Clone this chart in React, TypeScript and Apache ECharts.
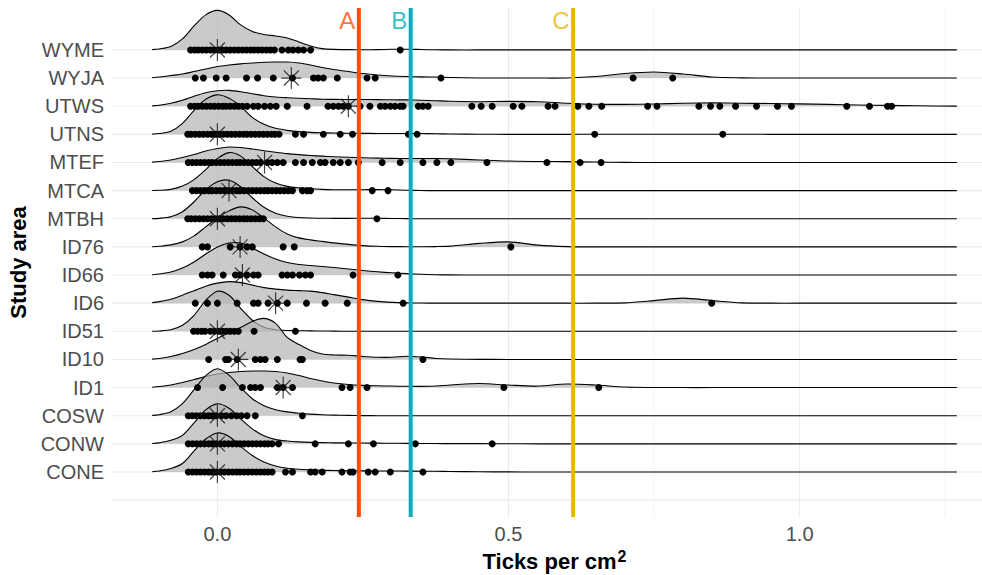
import React, { useEffect, useRef } from "react";
import * as echarts from "echarts";

// Study areas, bottom to top (value 1 = CONE ... 16 = WYME)
const CATEGORIES = ["CONE", "CONW", "COSW", "ID1", "ID10", "ID51", "ID6", "ID66", "ID76", "MTBH", "MTCA", "MTEF", "UTNS", "UTWS", "WYJA", "WYME"];

const X_TICKS = [0, 0.5, 1.0];
const GRID_MAJOR_X = [0, 0.5, 1.0];
const GRID_MINOR_X = [0.25, 0.75, 1.25];

const THRESHOLDS = [0.243, 0.332, 0.611];
const THRESHOLD_LABELS = ["A", "B", "C"];
const THRESHOLD_COLORS = ["#FC4E07", "#00AFBB", "#E7B800"];

// x positions where the ridge densities are read
const DENSITY_X = [-0.112, -0.1, -0.08, -0.06, -0.04, -0.02, 0, 0.02, 0.04, 0.06, 0.08, 0.1, 0.12, 0.14, 0.16, 0.18, 0.2,
  0.225, 0.25, 0.275, 0.3, 0.325, 0.35, 0.375, 0.4,
  0.45, 0.5, 0.55, 0.6, 0.65, 0.7, 0.75, 0.8, 0.85, 0.9, 0.95, 1.0, 1.05, 1.1, 1.15, 1.2, 1.27];

// relative ridge heights at DENSITY_X (missing trailing values = 0)
const D_CONE = [0.3, 1, 3.5, 8.5, 21, 33, 39, 35.5, 25.5, 16.5, 10, 6, 3.8, 2.7, 2.2, 1.8, 1.5, 1.3, 1.1, 1, 1, 0.9, 0.8, 0.7, 0.5, 0.2, 0.1];
const D_CONW = [0.3, 1, 3.5, 8.5, 21, 34, 40, 35.5, 25, 15, 8, 4.2, 2.8, 2, 1.5, 1.2, 1, 0.9, 0.8, 0.7, 0.6, 0.5, 0.4, 0.3, 0.2, 0.2, 0.1];
const D_COSW = [0.3, 1, 4, 12, 26, 40, 47, 40.5, 28, 17, 10, 6, 3.8, 2.5, 1.6, 1, 0.6, 0.3, 0.1];
const D_ID1 = [0.3, 1, 2.5, 5, 8, 11, 13.5, 15, 16, 16.5, 16.5, 16, 14.5, 12, 9, 6.5, 4.5, 3, 2.2, 1.8, 1.5, 1.3, 1.2, 1.5, 2.5, 4, 2.5, 1.5, 3.5, 2.5, 0.5, 0.1];
const D_ID10 = [0.3, 1, 3, 6, 10, 15, 21, 27, 32, 38, 41, 36, 22, 15, 9, 5.5, 4.5, 4.2, 3, 2.2, 2.2, 3.2, 2.5, 1, 0.4, 0.1];
const D_ID51 = [0.1, 0.3, 1.5, 6, 16, 31, 40, 36, 23, 11, 4, 1.5, 0.8, 0.6, 0.4, 0.3, 0.2];
const D_ID6 = [0.5, 1.5, 4, 8, 12.5, 17, 20, 21.5, 20.5, 18, 15.5, 14, 13, 12.5, 12, 10.5, 8.5, 6, 3.5, 1.8, 0.8, 0.3, 0.1, 0, 0, 0, 0, 0, 0, 0, 0.3, 2.5, 5, 2.5, 0.3];
const D_ID66 = [0.3, 1, 3, 7, 13, 21, 28, 32, 32, 27, 21, 16, 12.5, 10.5, 9.5, 8.5, 7.5, 6, 4.5, 3.2, 2.2, 1.4, 0.7, 0.3, 0.1];
const D_ID76 = [0.2, 0.6, 2, 5, 11, 20, 29, 36, 40, 37, 29, 20, 13, 9, 7, 5.5, 4, 2.5, 1.3, 0.6, 0.3, 0.2, 0.2, 0.3, 0.8, 3.5, 5, 1.8, 0.3];
const D_MTBH = [0.1, 0.4, 2, 7, 17, 29, 37, 38.5, 32, 21, 11.5, 5.5, 2.5, 1.2, 0.7, 0.5, 0.4, 0.4, 0.5, 0.5, 0.3, 0.1];
const D_MTCA = [0.1, 0.3, 1.2, 4.5, 11, 21, 32, 38, 34.5, 24, 14, 7.5, 4.2, 2.7, 1.8, 1.2, 0.9, 0.8, 0.9, 1.0, 0.8, 0.4, 0.1];
const D_MTEF = [0.3, 1, 2.5, 5, 8, 11.5, 14, 15.5, 15, 13.5, 11.8, 10.2, 8.8, 7.8, 7, 6.3, 5.7, 5.2, 4.7, 4.3, 4.1, 4, 4, 4, 3.7, 2.5, 1.4, 1, 0.8, 0.4, 0.1];
const D_UTNS = [0.2, 0.8, 3, 11, 24, 35, 39.5, 36, 28, 17, 10, 6, 4, 2.7, 2, 1.6, 1.3, 1.1, 1, 0.9, 0.8, 0.8, 0.8, 0.6, 0.4, 0.1, 0, 0, 0, 0.1, 0.1, 0.1, 0.1, 0.1, 0.1];
const D_UTWS = [0.3, 1, 3, 6, 10, 13.5, 15.5, 15.8, 14.5, 12.5, 10.5, 9.2, 8.5, 8, 7.5, 7, 6.8, 6.7, 6.7, 6.6, 6.4, 6.3, 6, 5.5, 5, 4.5, 4.8, 4.5, 3, 2, 1.8, 2.2, 3, 3.3, 3, 2.7, 2.3, 1.8, 1.2, 0.8, 0.4, 0.1];
const D_WYJA = [0.3, 1, 2.5, 4, 6.5, 9, 11.5, 13, 14.2, 15, 15.8, 16, 16, 15, 13, 10.5, 8.5, 6.5, 4.5, 3, 2, 1.5, 1.2, 1, 0.6, 0.1, 0, 0, 0.1, 1.5, 4.5, 6, 4, 1, 0.2];
const D_WYME = [0.3, 1, 3.5, 11, 24, 35, 39.5, 35, 25, 18.5, 15.5, 14, 12, 8, 4, 1.3, 0.5, 0.3, 0.2, 0.3, 0.6, 0.7, 0.4, 0.1];

const DENSITIES = [D_CONE, D_CONW, D_COSW, D_ID1, D_ID10, D_ID51, D_ID6, D_ID66, D_ID76, D_MTBH, D_MTCA, D_MTEF, D_UTNS, D_UTWS, D_WYJA, D_WYME];

// observed (jittered) values, ticks per cm2
const P_CONE = [-0.05, -0.043, -0.036, -0.029, -0.022, -0.015, -0.009, -0.002, 0.005, 0.012, 0.019, 0.026, 0.033, 0.039, 0.046, 0.053, 0.06, 0.067, 0.074, 0.081, 0.087, 0.094, 0.117, 0.129, 0.16, 0.168, 0.18, 0.214, 0.228, 0.233, 0.259, 0.271, 0.297, 0.353];
const P_CONW = [-0.05, -0.043, -0.036, -0.029, -0.022, -0.015, -0.009, -0.002, 0.005, 0.012, 0.019, 0.026, 0.033, 0.039, 0.046, 0.053, 0.06, 0.067, 0.074, 0.081, 0.087, 0.094, 0.105, 0.168, 0.225, 0.268, 0.34, 0.472];
const P_COSW = [-0.05, -0.043, -0.036, -0.029, -0.022, -0.015, -0.009, -0.002, 0.007, 0.015, 0.024, 0.033, 0.041, 0.051, 0.065, 0.146];
const P_ID1 = [-0.034, 0.009, 0.043, 0.057, 0.065, 0.074, 0.103, 0.113, 0.129, 0.214, 0.228, 0.257, 0.492, 0.655];
const P_ID10 = [-0.015, 0.014, 0.019, 0.034, 0.065, 0.074, 0.082, 0.103, 0.142, 0.146, 0.353];
const P_ID51 = [-0.041, -0.034, -0.027, -0.021, -0.012, -0.005, 0.002, 0.009, 0.015, 0.022, 0.029, 0.036, 0.063, 0.134];
const P_ID6 = [-0.038, -0.017, 0, 0.034, 0.062, 0.07, 0.087, 0.103, 0.12, 0.153, 0.185, 0.223, 0.319, 0.849];
const P_ID66 = [-0.026, -0.017, -0.009, 0.01, 0.031, 0.039, 0.051, 0.062, 0.07, 0.111, 0.12, 0.129, 0.141, 0.151, 0.16, 0.233, 0.31];
const P_ID76 = [-0.026, -0.017, 0.022, 0.039, 0.051, 0.06, 0.113, 0.132, 0.504];
const P_MTBH = [-0.051, -0.045, -0.038, -0.031, -0.024, -0.017, -0.01, -0.003, 0.003, 0.01, 0.017, 0.024, 0.031, 0.038, 0.045, 0.051, 0.058, 0.065, 0.072, 0.079, 0.274];
const P_MTCA = [-0.043, -0.036, -0.029, -0.022, -0.015, -0.009, -0.002, 0.005, 0.012, 0.019, 0.026, 0.033, 0.039, 0.046, 0.053, 0.06, 0.067, 0.074, 0.081, 0.087, 0.094, 0.101, 0.108, 0.115, 0.122, 0.129, 0.146, 0.154, 0.16, 0.266, 0.293];
const P_MTEF = [-0.05, -0.043, -0.036, -0.029, -0.022, -0.015, -0.009, -0.002, 0.005, 0.012, 0.019, 0.026, 0.033, 0.039, 0.046, 0.053, 0.06, 0.067, 0.074, 0.086, 0.094, 0.103, 0.113, 0.134, 0.148, 0.163, 0.177, 0.185, 0.199, 0.211, 0.225, 0.242, 0.283, 0.314, 0.353, 0.377, 0.401, 0.463, 0.566, 0.623, 0.659];
const P_UTNS = [-0.051, -0.045, -0.038, -0.031, -0.024, -0.017, -0.01, -0.003, 0.003, 0.01, 0.017, 0.024, 0.031, 0.038, 0.045, 0.051, 0.058, 0.065, 0.072, 0.079, 0.086, 0.093, 0.099, 0.106, 0.134, 0.148, 0.182, 0.211, 0.232, 0.328, 0.343, 0.648, 0.868];
const P_UTWS = [-0.046, -0.039, -0.033, -0.026, -0.019, -0.012, -0.005, 0.002, 0.009, 0.015, 0.022, 0.029, 0.036, 0.043, 0.051, 0.062, 0.07, 0.081, 0.091, 0.101, 0.12, 0.154, 0.19, 0.199, 0.208, 0.216, 0.225, 0.245, 0.262, 0.28, 0.288, 0.297, 0.305, 0.314, 0.319, 0.345, 0.353, 0.362, 0.437, 0.453, 0.472, 0.508, 0.523, 0.568, 0.58, 0.619, 0.638, 0.66, 0.739, 0.755, 0.827, 0.847, 0.863, 0.89, 0.926, 0.962, 0.986, 1.081, 1.12, 1.151, 1.158];
const P_WYJA = [-0.038, -0.024, -0.002, 0.015, 0.05, 0.069, 0.096, 0.129, 0.165, 0.173, 0.182, 0.206, 0.257, 0.271, 0.384, 0.714, 0.782];
const P_WYME = [-0.046, -0.039, -0.033, -0.026, -0.019, -0.012, -0.005, 0.002, 0.009, 0.015, 0.022, 0.029, 0.036, 0.043, 0.05, 0.057, 0.063, 0.07, 0.077, 0.084, 0.091, 0.098, 0.111, 0.122, 0.13, 0.139, 0.148, 0.16, 0.314];

const POINTS = [P_CONE, P_CONW, P_COSW, P_ID1, P_ID10, P_ID51, P_ID6, P_ID66, P_ID76, P_MTBH, P_MTCA, P_MTEF, P_UTNS, P_UTWS, P_WYJA, P_WYME];

// summary marker (asterisk) per study area
const SUMMARY = [0, 0, 0, 0.113, 0.036, 0, 0.1, 0.043, 0.039, 0, 0.02, 0.081, 0, 0.225, 0.127, 0];

const FONT = "'Liberation Sans', Arial, Helvetica, sans-serif";
const X_MIN = -0.181;
const X_MAX = 1.339;
const Y_MIN = -0.6;
const Y_MAX = 17.49;
const RIDGE_SCALE = 1 / 28.13;
const RIDGE_FILL = "rgba(179,179,179,0.7)";
const GRID_COLOR = "#EBEBEB";
const STAR = "path://M10 0L10 22M0 11L20 11M2.5 3.5L17.5 18.5M2.5 18.5L17.5 3.5";

function seg(data: number[][], color: string, width: number, z: number) {
  return {
    type: "line",
    data,
    symbol: "none",
    silent: true,
    lineStyle: { color, width },
    z,
  };
}

function buildOption() {
  const series: any[] = [];
  GRID_MINOR_X.forEach((x) => series.push(seg([[x, Y_MIN], [x, Y_MAX]], GRID_COLOR, 0.6, 1)));
  GRID_MAJOR_X.forEach((x) => series.push(seg([[x, Y_MIN], [x, Y_MAX]], GRID_COLOR, 1.1, 1)));
  for (let i = 0; i <= CATEGORIES.length; i++) {
    series.push(seg([[X_MIN, i], [X_MAX, i]], GRID_COLOR, 1.1, 1));
  }

  for (let i = CATEGORIES.length - 1; i >= 0; i--) {
    const yv = i + 1;
    const dens = DENSITIES[i];
    series.push({
      type: "custom",
      silent: true,
      z: 2,
      data: [[0, yv]],
      encode: { x: 0, y: 1 },
      renderItem: (_params: any, api: any) => {
        const top = DENSITY_X.map((x, k) => api.coord([x, yv + (dens[k] ?? 0) * RIDGE_SCALE]));
        const b1 = api.coord([DENSITY_X[DENSITY_X.length - 1], yv]);
        const b0 = api.coord([DENSITY_X[0], yv]);
        return {
          type: "group",
          children: [
            { type: "polygon", shape: { points: [...top, b1, b0], smooth: 0.3 }, style: { fill: RIDGE_FILL, stroke: "none" } },
            { type: "polyline", shape: { points: top, smooth: 0.3 }, style: { stroke: "#000", lineWidth: 1.1, fill: "none" } },
          ],
        };
      },
    });
    series.push({
      type: "scatter",
      silent: true,
      z: 2,
      symbol: "circle",
      symbolSize: 7,
      itemStyle: { color: "#000", opacity: 1 },
      data: POINTS[i].map((x) => [x, yv]),
    });
    series.push({
      type: "scatter",
      silent: true,
      z: 2,
      symbol: STAR,
      symbolSize: [20, 22],
      itemStyle: { color: "none", borderColor: "#111", borderWidth: 1.2 },
      data: [[SUMMARY[i], yv]],
    });
  }

  THRESHOLDS.forEach((x, k) => {
    series.push(seg([[x, Y_MIN], [x, Y_MAX]], THRESHOLD_COLORS[k], 4, 5));
    series.push({
      type: "scatter",
      silent: true,
      z: 6,
      symbolSize: 1,
      itemStyle: { color: "rgba(0,0,0,0)" },
      data: [[x, 17.03]],
      label: {
        show: true,
        position: "left",
        distance: 3,
        formatter: THRESHOLD_LABELS[k],
        color: THRESHOLD_COLORS[k],
        fontSize: 24,
        fontFamily: FONT,
      },
    });
  });

  return {
    animation: false,
    backgroundColor: "#fff",
    grid: { left: 112, top: 8, width: 885, height: 509, containLabel: false, outerBoundsMode: "none" },
    xAxis: {
      type: "value",
      min: X_MIN,
      max: X_MAX,
      axisLine: { show: false },
      axisTick: { show: false },
      splitLine: { show: false },
      axisLabel: {
        customValues: X_TICKS,
        formatter: (v: number) => v.toFixed(1),
        color: "#4D4D4D",
        fontSize: 20,
        fontFamily: FONT,
        margin: 7,
      },
      name: "{a|Ticks per cm}{b|2}",
      nameLocation: "middle",
      nameGap: 27,
      nameTextStyle: {
        rich: {
          a: { fontSize: 22, fontWeight: "bold", color: "#000", fontFamily: FONT, lineHeight: 26, verticalAlign: "middle" },
          b: { fontSize: 16, fontWeight: "bold", color: "#000", fontFamily: FONT, lineHeight: 16, verticalAlign: "top", padding: [0, 0, 0, 1] },
        },
      },
    },
    yAxis: {
      type: "value",
      min: Y_MIN,
      max: Y_MAX,
      axisLine: { show: false },
      axisTick: { show: false },
      splitLine: { show: false },
      axisLabel: {
        customValues: CATEGORIES.map((_, i) => i + 1),
        formatter: (v: number) => (Number.isInteger(v) && v >= 1 && v <= CATEGORIES.length ? CATEGORIES[v - 1] : ""),
        color: "#4D4D4D",
        fontSize: 20,
        fontFamily: FONT,
        margin: 8,
      },
      name: "Study area",
      nameLocation: "middle",
      nameRotate: 90,
      nameGap: 81,
      nameTextStyle: { fontSize: 22, fontWeight: "bold", color: "#000", fontFamily: FONT },
    },
    series,
  };
}

export default function App() {
  const ref = useRef<HTMLDivElement>(null);
  useEffect(() => {
    if (!ref.current) return;
    const chart = echarts.init(ref.current, null, { renderer: "svg" });
    chart.setOption(buildOption() as any);
    return () => chart.dispose();
  }, []);
  return (
    <div
      ref={ref}
      style={{ position: "absolute", left: 0, top: 0, width: 982, height: 575, background: "#fff" }}
    />
  );
}
